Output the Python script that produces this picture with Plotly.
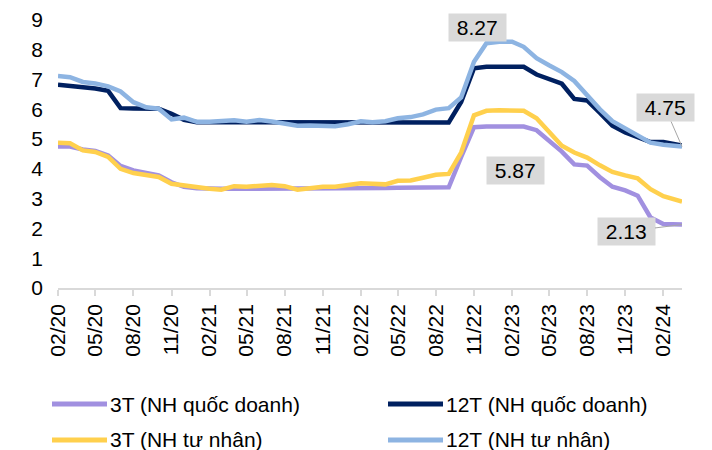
import pandas as pd
import plotly.graph_objects as go

# ---- data ----
dates = list(pd.date_range("2020-02-01", periods=49, freq="MS").strftime("%Y-%m-%d")) + ["2024-03-17"]

series_names = ["3T (NH quốc doanh)", "12T (NH quốc doanh)", "3T (NH tư nhân)", "12T (NH tư nhân)"]

state_3m = [4.75, 4.75, 4.65, 4.60, 4.45, 4.10, 3.95, 3.85, 3.78, 3.55,
            3.40, 3.35, 3.33, 3.33, 3.33, 3.33, 3.34, 3.34, 3.34, 3.34,
            3.34, 3.34, 3.34, 3.35, 3.36, 3.36, 3.36, 3.37, 3.38, 3.38,
            3.38, 3.38, 4.40, 5.40, 5.42, 5.42, 5.42, 5.42, 5.30, 4.95,
            4.58, 4.15, 4.11, 3.72, 3.40, 3.28, 3.10, 2.37, 2.15, 2.13]

state_12m = [6.83, 6.80, 6.74, 6.70, 6.62, 6.04, 6.03, 6.02, 6.02, 5.85,
             5.65, 5.57, 5.57, 5.57, 5.57, 5.57, 5.57, 5.57, 5.57, 5.57,
             5.57, 5.57, 5.57, 5.57, 5.57, 5.57, 5.57, 5.56, 5.56, 5.56,
             5.56, 5.56, 6.25, 7.38, 7.43, 7.43, 7.43, 7.43, 7.17, 7.02,
             6.86, 6.35, 6.30, 5.88, 5.45, 5.22, 5.05, 4.90, 4.90, 4.78]

private_3m = [4.88, 4.86, 4.62, 4.57, 4.40, 4.00, 3.86, 3.80, 3.73, 3.50,
              3.44, 3.37, 3.33, 3.30, 3.42, 3.40, 3.43, 3.46, 3.42, 3.30,
              3.35, 3.40, 3.40, 3.47, 3.52, 3.50, 3.48, 3.60, 3.61, 3.70,
              3.80, 3.83, 4.55, 5.80, 5.95, 5.97, 5.97, 5.95, 5.70, 5.25,
              4.78, 4.55, 4.38, 4.12, 3.90, 3.78, 3.68, 3.32, 3.08, 2.90]

private_12m = [7.12, 7.08, 6.92, 6.87, 6.77, 6.60, 6.24, 6.07, 6.02, 5.66,
               5.72, 5.58, 5.58, 5.62, 5.63, 5.58, 5.64, 5.59, 5.53, 5.45,
               5.46, 5.46, 5.43, 5.50, 5.60, 5.57, 5.60, 5.70, 5.74, 5.83,
               5.99, 6.04, 6.40, 7.60, 8.22, 8.27, 8.27, 8.10, 7.72, 7.48,
               7.25, 6.95, 6.45, 6.00, 5.60, 5.36, 5.10, 4.88, 4.81, 4.75]

colors = ["#A190E0", "#002060", "#FFD04D", "#8DB4E2"]
values = [state_3m, state_12m, private_3m, private_12m]

FONT = "Liberation Sans, Arial, sans-serif"
FS = 21

fig = go.Figure()
# draw order: purple, yellow, navy, light blue (light blue on top)
for i in [0, 2, 1, 3]:
    fig.add_trace(go.Scatter(x=dates, y=values[i], mode="lines", name=series_names[i],
                             line=dict(color=colors[i], width=4.5), showlegend=False))

# the page body has an 8px margin, so the figure is 8px smaller on each axis
fig.update_layout(
    width=704, height=442,
    margin=dict(l=50, r=30, t=12, b=162),
    paper_bgcolor="white", plot_bgcolor="white",
    font=dict(family=FONT, size=FS, color="#000000"),
    xaxis=dict(range=[dates[0], dates[-1]], type="date", tick0="2020-02-01", dtick="M3",
               tickformat="%m/%y", tickangle=-90, showgrid=False, zeroline=False,
               showline=True, linecolor="#D9D9D9", linewidth=1.5, automargin=False,
               ticks="outside", ticklen=6, tickcolor="#D9D9D9", tickwidth=1.5,
               tickfont=dict(size=FS)),
    yaxis=dict(range=[0, 9], dtick=1, showgrid=False, zeroline=False, showline=False,
               automargin=False, ticks="", ticklabelstandoff=14, tickfont=dict(size=FS)),
)

box = dict(bgcolor="#D9D9D9", borderpad=2, font=dict(size=FS, family=FONT, color="#000000"))

# value labels
fig.add_annotation(x=dates[35], y=8.27, text=" 8.27 ", showarrow=False, xshift=-22, yshift=14, **box)
fig.add_annotation(x=dates[36], y=5.87, text=" 5.87 ", showarrow=False, xshift=3, yshift=-57, **box)
fig.add_annotation(x=dates[-1], y=private_12m[-1], text=" 4.75 ", showarrow=True, arrowhead=0,
                   arrowwidth=1, arrowcolor="#A6A6A6", ax=-17, ay=-39, **box)
fig.add_annotation(x=dates[-1], y=state_3m[-1], text=" 2.13 ", showarrow=True, arrowhead=0,
                   arrowwidth=1, arrowcolor="#A6A6A6", ax=-56, ay=7, **box)

# manual legend (2 columns x 2 rows), positions in page pixels -> paper coords
def px2paper_x(px):
    return (px - 58) / 624.0

def px2paper_y(py):
    return (288 - py) / 268.0

legend_pos = [(52, 404), (388, 404), (52, 440), (388, 440)]
for i, (lx, ly) in enumerate(legend_pos):
    fig.add_shape(type="line", xref="paper", yref="paper",
                  x0=px2paper_x(lx), x1=px2paper_x(lx + 55), y0=px2paper_y(ly), y1=px2paper_y(ly),
                  line=dict(color=colors[i], width=5))
    fig.add_annotation(xref="paper", yref="paper", x=px2paper_x(lx + 56), y=px2paper_y(ly),
                       text=series_names[i], showarrow=False, xanchor="left", yanchor="middle",
                       font=dict(size=FS, family=FONT, color="#000000"))

fig.write_html("out.html")
